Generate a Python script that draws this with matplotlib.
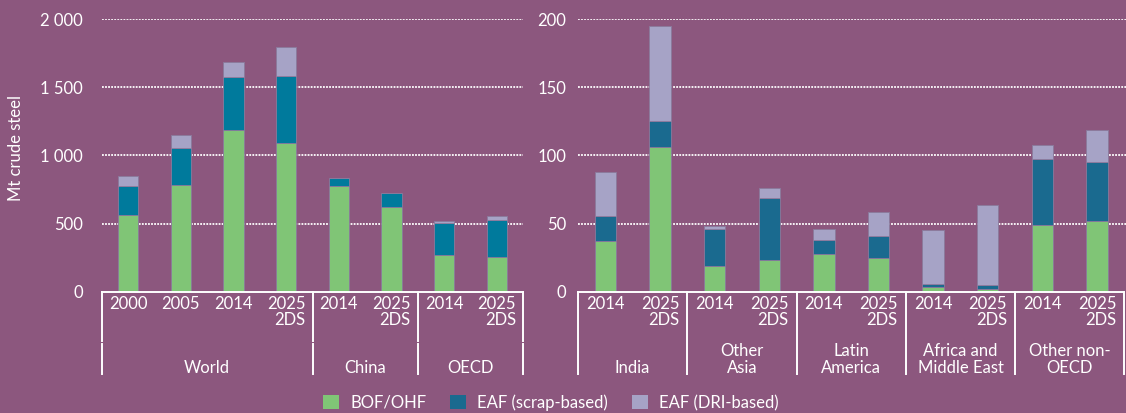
import numpy as np
import matplotlib
matplotlib.use("Agg")
import matplotlib.pyplot as plt
from matplotlib.patches import Patch

plt.rcParams['font.family'] = ['Lato', 'DejaVu Sans']

# left panel (world / China / OECD), Mt crude steel
left_years = ['2000', '2005', '2014', '2025\n2DS', '2014', '2025\n2DS', '2014', '2025\n2DS']
left_groups = ['World', 'China', 'OECD']
left_sizes = [4, 2, 2]
left_bof = [560, 782, 1185, 1088, 777, 623, 269, 252]
left_scrap = [217, 271, 389, 493, 56, 103, 237, 274]
left_dri = [71, 93, 107, 215, 0, 0, 10, 29]

# right panel (other regions)
right_years = ['2014', '2025\n2DS'] * 5
right_groups = ['India', 'Other\nAsia', 'Latin\nAmerica', 'Africa and\nMiddle East', 'Other non-\nOECD']
right_sizes = [2, 2, 2, 2, 2]
right_bof = [37.4, 106.3, 18.6, 23.0, 27.4, 24.7, 3.7, 2.0, 48.9, 51.8]
right_scrap = [18.1, 19.1, 27.6, 45.5, 10.7, 16.3, 2.2, 3.1, 48.4, 43.0]
right_dri = [32.5, 69.6, 1.7, 7.3, 7.6, 17.2, 39.1, 58.2, 10.2, 23.9]

legend_labels = ['BOF/OHF', 'EAF (scrap-based)', 'EAF (DRI-based)']

bg = '#8C577E'
green = '#80C576'
blue_left = '#007A9C'
blue_right = '#1A6A8F'
dri_col = '#A6A3C6'
edge = '#8a7a9c'
W, H = 1126, 413
FS = 12

fig = plt.figure(figsize=(W / 100, H / 100), dpi=100, facecolor=bg)


def px_axes(x0, x1, ytop, ybot):
    return fig.add_axes([x0 / W, 1 - ybot / H, (x1 - x0) / W, (ybot - ytop) / H])


def panel(ax, years, groups, sizes, bof, scrap, dri, blue, ymax, ticks, ticklabels,
          xmax, lab_pad, gap=False):
    ax.set_facecolor(bg)
    n = len(years)
    x = np.arange(n)
    ax.set_xlim(-0.5, xmax)
    ax.set_ylim(0, ymax)
    for t in ticks[1:]:
        ax.axhline(t, color='white', lw=1.3, ls=(0, (1.0, 0.7)), zorder=1)
    bof = np.array(bof)
    scrap = np.array(scrap)
    dri = np.array(dri)
    kw = dict(width=0.39, edgecolor=edge, linewidth=0.6, zorder=3)
    ax.bar(x, bof, color=green, **kw)
    ax.bar(x, scrap, bottom=bof, color=blue, **kw)
    ax.bar(x, dri, bottom=bof + scrap, color=dri_col, **kw)
    for s in ax.spines.values():
        s.set_visible(False)
    ax.set_xticks([])
    ax.set_yticks(ticks)
    ax.set_yticklabels(ticklabels, fontsize=FS, color='white')
    ax.tick_params(axis='y', length=0, pad=lab_pad)

    tr = ax.get_xaxis_transform()
    # axes height in px: used to place category text below zero
    hpx = ax.get_position().height * H

    def yf(p):
        return -p / hpx

    ax.plot([-0.5, n - 0.5], [0, 0], color='white', lw=1.4, transform=tr,
            clip_on=False, zorder=4)
    for i, lab in enumerate(years):
        ax.text(x[i], yf(4), lab, transform=tr, ha='center', va='top',
                multialignment='right', fontsize=FS, color='white', linespacing=1.02)
    edges = np.concatenate([[0], np.cumsum(sizes)]) - 0.5
    for e in edges:
        if gap:
            ax.plot([e, e], [0, yf(49)], color='white', lw=1.4, transform=tr, clip_on=False)
            ax.plot([e, e], [yf(52), yf(82)], color='white', lw=1.4, transform=tr, clip_on=False)
        else:
            ax.plot([e, e], [0, yf(82)], color='white', lw=1.4, transform=tr, clip_on=False)
    for g, lab in enumerate(groups):
        c = (edges[g] + edges[g + 1]) / 2
        ax.text(c, yf(84), lab, transform=tr, ha='center', va='bottom',
                multialignment='center', fontsize=FS, color='white', linespacing=1.02)


ax1 = px_axes(101.8, 523.2, 19, 291.7)
panel(ax1, left_years, left_groups, left_sizes, left_bof, left_scrap, left_dri,
      blue_left, 2000, [0, 500, 1000, 1500, 2000], ['0', '500', '1 000', '1 500', '2 000'],
      7.5, 13.5, gap=True)
fig.text(16 / W, 1 - 148 / H, 'Mt crude steel', rotation=90, ha='center', va='center',
         fontsize=FS, color='white')

ax2 = px_axes(578, 1126, 19, 291.7)
panel(ax2, right_years, right_groups, right_sizes, right_bof, right_scrap, right_dri,
      blue_right, 200, [0, 50, 100, 150, 200], ['0', '50', '100', '150', '200'],
      9.53, 8.3)

handles = [Patch(facecolor=c, edgecolor='none') for c in (green, blue_right, dri_col)]
fig.legend(handles, legend_labels, loc='center', bbox_to_anchor=(550.8 / W, 1 - 402.7 / H),
           ncol=3, frameon=False, fontsize=FS, labelcolor='white', handlelength=0.95,
           handleheight=0.95, handletextpad=0.65, columnspacing=1.45)

fig.savefig('out.png', dpi=100, facecolor=bg)
